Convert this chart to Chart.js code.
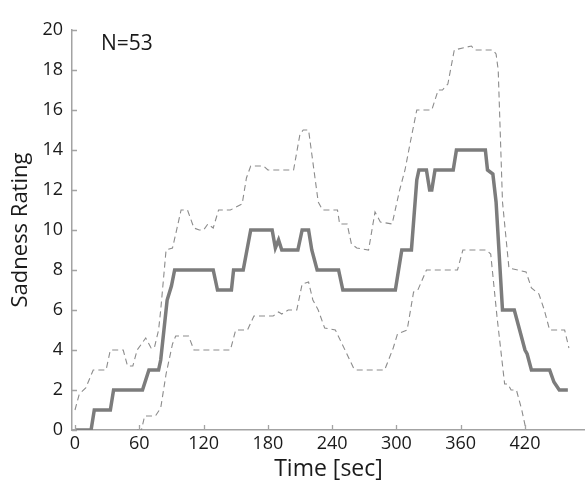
<!DOCTYPE html>
<html>
<head>
<meta charset="utf-8">
<script src="https://cdn.jsdelivr.net/npm/chart.js@4.4.0/dist/chart.umd.min.js"></script>
<style>
  html, body { margin: 0; padding: 0; background: #fff; }
  #wrap { width: 585px; height: 483px; }
</style>
</head>
<body>
<div id="wrap"><canvas id="ratingChart"></canvas></div>
<script>
// Mean sadness rating over time (thick solid line)
const meanTime = [0, 15, 18, 33, 36, 63, 69, 78, 80, 83, 86, 90, 93, 129, 133, 146, 148, 157, 164, 184, 187, 190, 193, 208, 212, 218, 221, 226, 246, 250, 299, 305, 314, 319, 321, 328, 331, 333, 336, 353, 356, 383, 385, 390, 393, 399, 410, 415, 420, 422, 426, 443, 447, 452, 460];
const meanRating = [0, 0, 1, 1, 2, 2, 3, 3, 3.5, 5, 6.5, 7.2, 8, 8, 7, 7, 8, 8, 10, 10, 9.1, 9.5, 9, 9, 10, 10, 9, 8, 8, 7, 7, 9, 9, 12.5, 13, 13, 12, 12, 13, 13, 14, 14, 13, 12.8, 11.4, 6, 6, 5, 4, 3.8, 3, 3, 2.4, 2, 2];

// Upper bound (dashed)
const upperTime = [0, 4, 10, 17, 29, 33, 45, 49, 54, 58, 66, 71, 74, 78, 80, 85, 91, 94, 99, 105, 111, 116, 120, 124, 129, 134, 145, 156, 160, 164, 176, 180, 204, 210, 213, 218, 227, 231, 245, 247, 254, 258, 263, 274, 280, 285, 296, 303, 308, 313, 319, 333, 339, 343, 348, 354, 366, 370, 373, 390, 393, 395, 399, 405, 421, 426, 433, 438, 443, 457, 461];
const upperRating = [1, 1.8, 2.1, 3, 3, 4, 4, 3.2, 3.2, 4, 4.6, 4.1, 4.1, 5, 6, 9, 9.1, 9.8, 11, 11, 10.1, 10, 10, 10.3, 10.1, 11, 11, 11.3, 12.6, 13.2, 13.2, 13, 13, 14.8, 15, 15, 11.4, 11, 11, 10.3, 10.3, 9.3, 9.1, 9, 10.9, 10.4, 10.3, 12, 13, 14.4, 16, 16, 17, 17, 17.3, 19, 19.15, 19.2, 19, 19, 18.8, 18, 11.4, 8.1, 7.9, 7.1, 6.8, 6, 5, 5, 4.1];

// Lower bound (dashed)
const lowerTime = [58, 62, 65, 75, 80, 85, 91, 94, 106, 111, 145, 150, 161, 167, 185, 190, 193, 199, 207, 212, 218, 222, 227, 233, 243, 252, 260, 262, 289, 297, 301, 310, 316, 320, 328, 357, 362, 384, 388, 394, 401, 404, 407, 412, 417, 421];
const lowerRating = [0, 0, 0.7, 0.7, 1.1, 2.8, 4.3, 4.7, 4.7, 4, 4, 5, 5, 5.7, 5.7, 5.9, 5.8, 6, 6, 7.3, 7.4, 6.5, 6, 5.1, 5, 4, 3.1, 3, 3, 4.1, 4.8, 5, 6.9, 7, 8, 8, 9, 9, 8.8, 5.6, 2.3, 2.3, 2, 2, 1, 0];

const xTicks = [0, 60, 120, 180, 240, 300, 360, 420];
const yTicks = [0, 2, 4, 6, 8, 10, 12, 14, 16, 18, 20];

const toPoints = (xs, ys) => xs.map((x, i) => ({ x: x, y: ys[i] }));

const axisGray = '#a3a3a3';
const font = 'Open Sans';

// small inward tick marks and the N label
const extras = {
  id: 'extras',
  afterDraw(chart) {
    const c = chart.ctx;
    const xs = chart.scales.x;
    const ys = chart.scales.y;
    c.save();
    c.strokeStyle = axisGray;
    c.lineWidth = 1.3;
    c.beginPath();
    xTicks.forEach(v => {
      const px = Math.round(xs.getPixelForValue(v)) + 0.5;
      c.moveTo(px, ys.bottom);
      c.lineTo(px, ys.bottom - 5);
    });
    yTicks.forEach(v => {
      const py = Math.round(ys.getPixelForValue(v)) + 0.5;
      c.moveTo(xs.left, py);
      c.lineTo(xs.left + 5, py);
    });
    c.stroke();
    c.fillStyle = '#1a1a1a';
    c.font = '21px "' + font + '"';
    c.textBaseline = 'middle';
    c.fillText('N=53', 101, 44);
    c.restore();
  }
};

const ctx = document.getElementById('ratingChart').getContext('2d');
const ratingChart = new Chart(ctx, {
  type: 'line',
  data: {
    datasets: [{
      label: 'Mean',
      data: toPoints(meanTime, meanRating),
      borderColor: '#7c7c7c',
      borderWidth: 3.5,
      pointRadius: 0,
      tension: 0
    }, {
      label: 'Upper',
      data: toPoints(upperTime, upperRating),
      borderColor: '#8c8c8c',
      borderWidth: 1.1,
      borderDash: [6, 4],
      pointRadius: 0,
      tension: 0
    }, {
      label: 'Lower',
      data: toPoints(lowerTime, lowerRating),
      borderColor: '#8c8c8c',
      borderWidth: 1.1,
      borderDash: [6, 4],
      pointRadius: 0,
      tension: 0
    }]
  },
  options: {
    responsive: true,
    maintainAspectRatio: false,
    animation: false,
    layout: { padding: { top: 30, right: 0, bottom: 0, left: 0 } },
    plugins: { legend: { display: false }, tooltip: { enabled: false } },
    scales: {
      x: {
        type: 'linear',
        min: -2.8,
        max: 476,
        afterBuildTicks: s => { s.ticks = xTicks.map(v => ({ value: v })); },
        afterFit: s => { s.height = 53; },
        grid: { display: false, drawTicks: false },
        border: { display: true, color: axisGray, width: 1.5 },
        ticks: { color: '#1a1a1a', padding: 3, font: { family: font, size: 18 }, maxRotation: 0 },
        title: { display: true, text: 'Time [sec]', color: '#1a1a1a', font: { family: font, size: 23 }, padding: { top: 0, bottom: 0 } }
      },
      y: {
        min: 0,
        max: 20,
        afterBuildTicks: s => { s.ticks = yTicks.map(v => ({ value: v })); },
        afterFit: s => { s.width = 72; },
        grid: { display: false, drawTicks: false },
        border: { display: true, color: axisGray, width: 1.5 },
        ticks: { color: '#1a1a1a', padding: 9, font: { family: font, size: 18 } },
        title: { display: true, text: 'Sadness Rating', color: '#1a1a1a', font: { family: font, size: 22 }, padding: { top: 8, bottom: 0 } }
      }
    }
  },
  plugins: [extras]
});
</script>
</body>
</html>
